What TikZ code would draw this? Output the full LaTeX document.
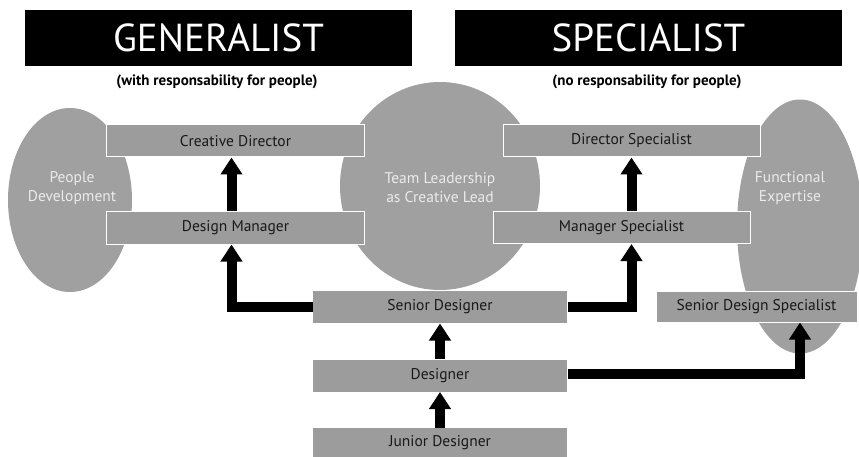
\documentclass[tikz,border=0pt]{standalone}
\usepackage{fontspec}
\setmainfont{PT Sans}
\usetikzlibrary{arrows.meta}
\definecolor{ellgray}{HTML}{A0A0A0}
\definecolor{boxgray}{HTML}{9C9C9C}
\tikzset{
  rolebox/.style={rectangle, fill=boxgray, draw=white, line width=1pt, minimum width=#1, minimum height=32pt, inner sep=0pt, font=\fontsize{15.5}{17}\selectfont, text=black!90},
  rolebox/.default=258pt,
  elltext/.style={align=center, text=white!92!black, font=\fontsize{15.5}{19}\selectfont},
  title/.style={rectangle, fill=black, text=white, minimum width=387pt, minimum height=56pt, inner sep=0pt, font=\fontsize{39}{42}\selectfont},
  subtitle/.style={font=\fontsize{15}{17}\selectfont\bfseries, text=black},
  arr/.style={line width=10pt, line join=miter, -{Triangle[length=17pt, width=21pt]}},
}
\begin{document}
\begin{tikzpicture}[x=1pt, y=-1pt]
\useasboundingbox (0,0) rectangle (859,457);
% ellipses
\fill[ellgray] (70,200) ellipse [x radius=62, y radius=92];
\fill[ellgray] (440,186) ellipse [x radius=100, y radius=104];
\fill[ellgray] (800,226.5) ellipse [x radius=63, y radius=127];
\node[elltext] (pd) at (72,188) {People\\Development};
\node[elltext] (tl) at (440,188) {Team Leadership\\as Creative Lead};
\node[elltext] (fe) at (790,188) {Functional\\Expertise};
% titles
\node[title] (gen) at (218.5,38) {GENERALIST};
\node[title] (spe) at (648.5,38) {SPECIALIST};
\node[subtitle] (gsub) at (217,82) {(with responsability for people)};
\node[subtitle] (ssub) at (647,82) {(no responsability for people)};
% boxes
\node[rolebox] (cd) at (235.5,141) {Creative Director};
\node[rolebox] (dm) at (235.5,228) {Design Manager};
\node[rolebox=257pt] (ds) at (631.5,141) {Director Specialist};
\node[rolebox=257pt] (ms) at (621.5,227.5) {Manager Specialist};
\node[rolebox=254pt, draw=none] (sd) at (440,307) {Senior Designer};
\node[rolebox=254pt, draw=none] (de) at (440,375.5) {Designer};
\node[rolebox=254pt, draw=none, minimum height=30pt] (jd) at (440,443) {Junior Designer};
\node[rolebox=201pt, minimum height=31pt] (sds) at (756.5,306.5) {Senior Design Specialist};
% arrows
\draw[arr] ([xshift=-4pt]dm.north) -- ([xshift=-4pt]cd.south);
\draw[arr] (sd.west) -| ([xshift=-4pt]dm.south);
\draw[arr] (sd.east) -| (ms.south -| ds.south);
\draw[arr] (ms.north -| ds.south) -- (ds.south);
\draw[arr] (de.north) -- (sd.south);
\draw[arr] (jd.north) -- (de.south);
\draw[arr] ([yshift=1.5pt]de.east) -| ([xshift=43.5pt]sds.south);
\end{tikzpicture}
\end{document}
